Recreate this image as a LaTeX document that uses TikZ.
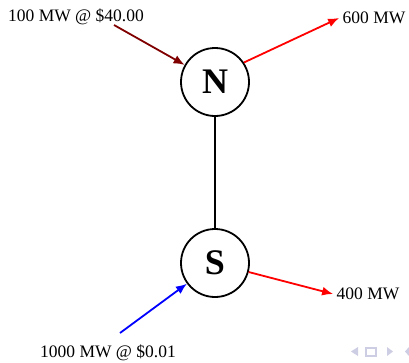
\documentclass[tikz,border=0pt]{standalone}
\usepackage{fontspec}
\setmainfont{Liberation Serif}
\usetikzlibrary{arrows.meta}
\definecolor{bidN}{RGB}{128,0,0}
\definecolor{navgray}{RGB}{205,205,228}

\begin{document}
\begin{tikzpicture}[x=1pt, y=-1pt, >={Latex[length=11pt,width=9pt]}, font=\fontsize{17.5}{20}\selectfont]
    \useasboundingbox (0,0) rectangle (409,362);

    % Buses
    \node[draw, circle, line width=1.8pt, minimum size=68pt, inner sep=0pt, font=\fontsize{36}{40}\selectfont\bfseries] (N) at (215,82) {N};
    \node[draw, circle, line width=1.8pt, minimum size=68pt, inner sep=0pt, font=\fontsize{36}{40}\selectfont\bfseries] (S) at (215,263) {S};

    % Line between buses
    \draw[line width=1.8pt] (N) -- (S);

    % Generators and loads
    \node (genN) at (76,17) {100 MW @ \$40.00};
    \node (loadN) at (374,18) {600 MW};
    \node (loadS) at (368,294) {400 MW};
    \node (genS) at (108,353) {1000 MW @ \$0.01};
    \coordinate (genNend) at (114,25);
    \coordinate (genSend) at (120,333);

    \draw[->, line width=1.8pt, color=bidN] (genNend) -- (N);
    \draw[->, line width=1.8pt, color=red] (N.34) -- (loadN.west);
    \draw[->, line width=1.8pt, color=red] (S.-15) -- (loadS.west);
    \draw[->, line width=1.8pt, color=blue] (genSend) -- (S);

    % navigation symbols
    \fill[navgray] (358,347) -- (358,356) -- (351,351.5) -- cycle;
    \draw[navgray, line width=1.2pt] (366,348) rectangle (376,356);
    \fill[navgray] (387,347) -- (387,356) -- (393,351.5) -- cycle;
    \fill[navgray] (409,347) -- (409,356) -- (405,351.5) -- cycle;
\end{tikzpicture}
\end{document}
